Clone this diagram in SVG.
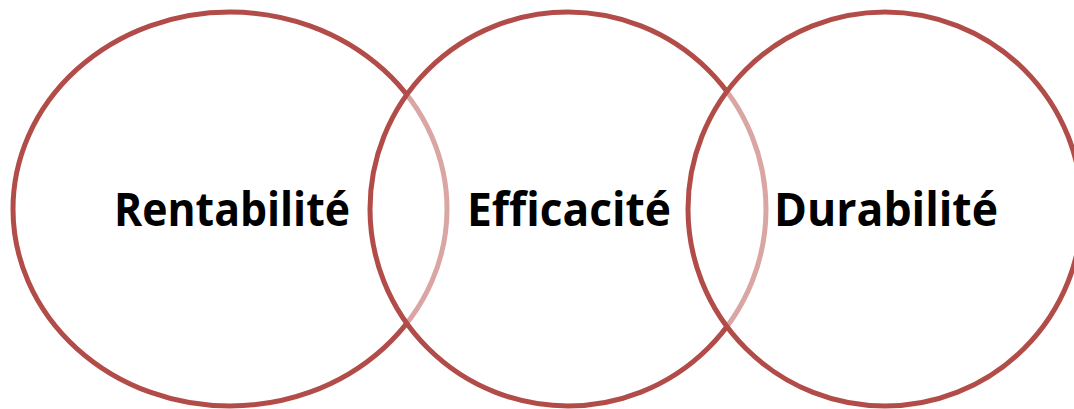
<svg xmlns="http://www.w3.org/2000/svg" width="1074" height="409" viewBox="0 0 1074 409">
  <style>
    .ring { fill: #ffffff; fill-opacity: 0.5; stroke: #B24C48; stroke-width: 5; }
    .label { font-family: "Open Sans", "Lato", "Liberation Sans", sans-serif; font-weight: bold; font-size: 46px; fill: #000000; text-anchor: middle; font-variant-ligatures: none; }
  </style>
  <rect x="0" y="0" width="1074" height="409" fill="#ffffff"/>
  <g id="node-rentabilite">
    <ellipse class="ring" cx="230" cy="209" rx="217" ry="197"/>
    <text class="label" x="232" y="226" textLength="236" lengthAdjust="spacingAndGlyphs">Rentabilité</text>
  </g>
  <g id="node-efficacite">
    <ellipse class="ring" cx="568" cy="209" rx="198" ry="197"/>
    <text class="label" x="569" y="226" textLength="204" lengthAdjust="spacingAndGlyphs">Efficacité</text>
  </g>
  <g id="node-durabilite">
    <ellipse class="ring" cx="885" cy="209" rx="197" ry="197"/>
    <text class="label" x="886" y="226" textLength="224" lengthAdjust="spacingAndGlyphs">Durabilité</text>
  </g>
  <g id="connectors"></g>
</svg>
